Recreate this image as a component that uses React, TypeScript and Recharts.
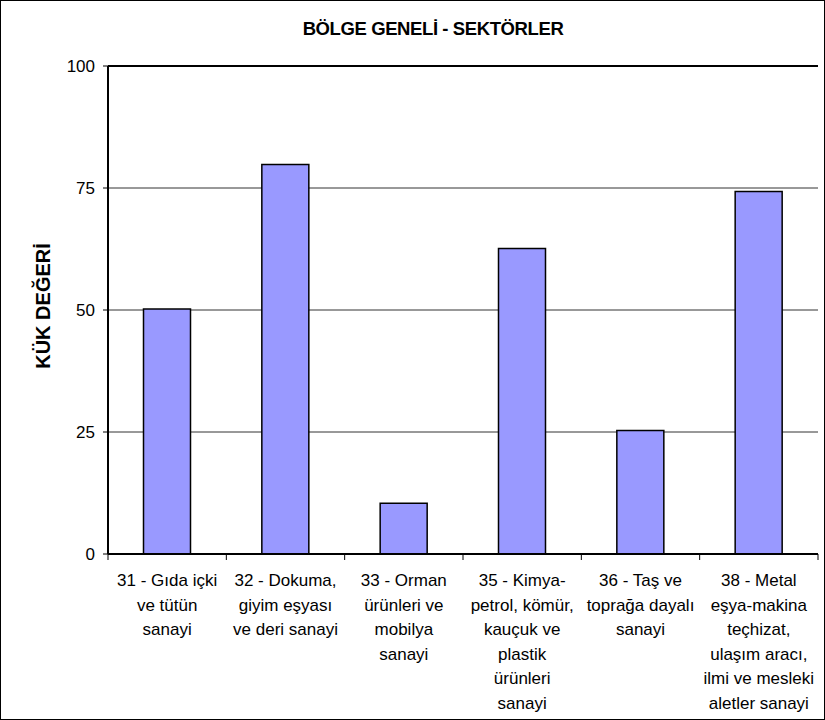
import React from "react";
import {
  BarChart,
  Bar,
  XAxis,
  YAxis,
  CartesianGrid,
  ReferenceLine,
} from "recharts";

// sector codes + names, split into the lines shown under each bar
const sectorLabels = [
  ["31 - Gıda içki", "ve tütün", "sanayi"],
  ["32 - Dokuma,", "giyim eşyası", "ve deri sanayi"],
  ["33 - Orman", "ürünleri ve", "mobilya", "sanayi"],
  ["35 - Kimya-", "petrol, kömür,", "kauçuk ve", "plastik", "ürünleri", "sanayi"],
  ["36 - Taş ve", "toprağa dayalı", "sanayi"],
  ["38 - Metal", "eşya-makina", "teçhizat,", "ulaşım aracı,", "ilmi ve mesleki", "aletler sanayi"],
];
const kukValues = [50.2, 79.8, 10.4, 62.6, 25.3, 74.3];
const yTicks = [0, 25, 50, 75, 100];

const data = sectorLabels.map((lines, i) => ({
  name: lines.join(" "),
  lines,
  value: kukValues[i],
}));

const W = 825;
const H = 720;
const M = { top: 66, right: 7, bottom: 6, left: 0 };
const Y_AXIS_W = 108;
const BAND = (W - M.left - M.right - Y_AXIS_W) / sectorLabels.length;
const FONT = "'Liberation Sans', Arial, sans-serif";

function SectorTick(props: any) {
  const { x, y, index } = props;
  const lines = data[index].lines;
  const half = BAND / 2;
  const axisY = y - 8;
  return (
    <g>
      <line x1={x - half} y1={axisY} x2={x - half} y2={axisY + 6} stroke="#000" strokeWidth={1} />
      {index === data.length - 1 && (
        <line x1={x + half} y1={axisY} x2={x + half} y2={axisY + 6} stroke="#000" strokeWidth={1} />
      )}
      <text textAnchor="middle" fontSize={17} fontFamily={FONT} fill="#000">
        {lines.map((l: string, i: number) => (
          <tspan key={i} x={x} y={y + 24 + i * 24.5}>
            {l}
          </tspan>
        ))}
      </text>
    </g>
  );
}

export default function App() {
  return (
    <div
      style={{
        position: "absolute",
        left: 0,
        top: 0,
        width: W,
        height: H,
        boxSizing: "border-box",
        border: "1px solid #000",
        background: "#fff",
      }}
    >
      <div
        style={{
          position: "absolute",
          left: 432,
          top: 28,
          transform: "translate(-50%, -50%)",
          fontFamily: FONT,
          fontWeight: "bold",
          fontSize: 18.5,
          letterSpacing: -0.4,
          whiteSpace: "nowrap",
        }}
      >
        BÖLGE GENELİ - SEKTÖRLER
      </div>
      <div
        style={{
          position: "absolute",
          left: 42,
          top: 305,
          transform: "translate(-50%, -50%) rotate(-90deg)",
          fontFamily: FONT,
          fontWeight: "bold",
          fontSize: 20,
          whiteSpace: "nowrap",
        }}
      >
        KÜK DEĞERİ
      </div>
      <div style={{ position: "absolute", left: -1, top: -1 }}>
        <BarChart width={W} height={H} data={data} margin={M} barCategoryGap="30%">
          <CartesianGrid vertical={false} stroke="#333" strokeWidth={1} />
          <XAxis
            dataKey="name"
            interval={0}
            height={160}
            tickLine={false}
            axisLine={{ stroke: "#000", strokeWidth: 2 }}
            tick={<SectorTick />}
          />
          <YAxis
            domain={[0, 100]}
            ticks={yTicks}
            width={Y_AXIS_W}
            tickSize={5}
            tickMargin={8}
            tickLine={{ stroke: "#000" }}
            axisLine={{ stroke: "#000", strokeWidth: 2 }}
            tick={{ fontSize: 17, fontFamily: FONT, fill: "#000" }}
          />
          <YAxis yAxisId="right" orientation="right" width={0} domain={[0, 100]} tick={false} tickLine={false} axisLine={{ stroke: "#000", strokeWidth: 2 }} />
          <ReferenceLine y={100} stroke="#000" strokeWidth={2} />
          <Bar dataKey="value" fill="#9999FF" stroke="#000" strokeWidth={1.5} isAnimationActive={false} />
        </BarChart>
      </div>
    </div>
  );
}
